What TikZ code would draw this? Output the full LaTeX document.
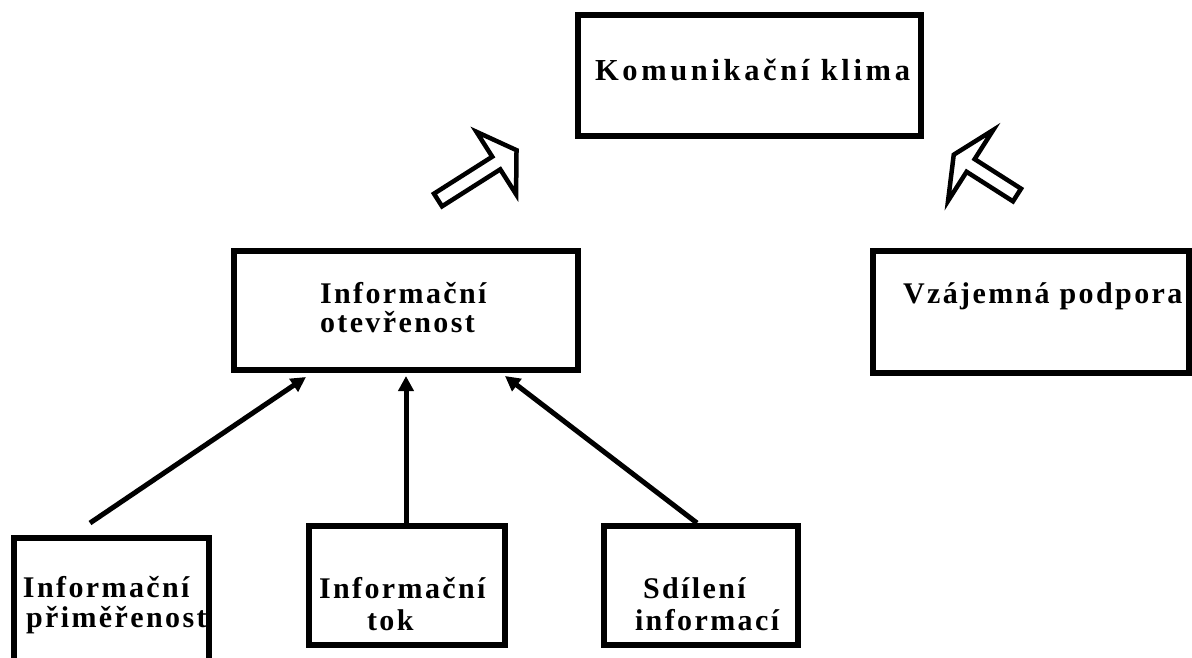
\documentclass[tikz,border=0pt]{standalone}
\usepackage{fontspec}
\newfontfamily\lbl[LetterSpace=8]{Liberation Serif}
\newfontfamily\lblw[LetterSpace=12]{Liberation Serif}
\usetikzlibrary{arrows.meta}
\begin{document}
\begin{tikzpicture}[x=1pt,y=-1pt,
  box/.style={draw=black, line width=6pt, rectangle, inner sep=0pt, outer sep=0pt, fill=white},
  lab/.style={anchor=base west, inner sep=0pt, outer sep=0pt, text=black, font=\lbl\bfseries\fontsize{30}{30}\selectfont},
  labw/.style={anchor=base west, inner sep=0pt, outer sep=0pt, text=black, font=\lblw\bfseries\fontsize{30.5}{30}\selectfont},
  conn/.style={draw=black, line width=5pt, -{Triangle[length=15pt,width=15pt]}},
  blockarrow/.style={draw=black, line width=4.5pt, fill=white, line join=miter}]
\useasboundingbox[fill=white] (0,0) rectangle (1192,657);

% boxes
\node[box, minimum width=343pt, minimum height=121.5pt] (kk) at (749.5,75.25) {};
\node[box, minimum width=343.5pt, minimum height=119pt] (io) at (405.75,310.5) {};
\node[box, minimum width=316pt, minimum height=122pt] (vp) at (1031,312) {};
\node[box, minimum width=195pt, minimum height=127pt] (ipm) at (111.5,601.5) {};
\node[box, minimum width=195.5pt, minimum height=119pt] (it) at (406.75,585.5) {};
\node[box, minimum width=194pt, minimum height=119pt] (si) at (701,585.5) {};

% labels
\node[labw] (kkl) at (595,80) {Komunikační klima};
\node[lab] (iol1) at (320,303) {Informační};
\node[lab] (iol2) at (320,332) {otevřenost};
\node[lab] (vpl) at (903,303) {Vzájemná podpora};
\node[lab] (ipml1) at (23,597) {Informační};
\node[lab] (ipml2) at (26,627) {přiměřenost};
\node[lab] (itl1) at (319,598) {Informační};
\node[lab] (itl2) at (367,630) {tok};
\node[lab] (sil1) at (643,598) {Sdílení};
\node[lab] (sil2) at (635,630) {informací};

% thin connectors
\coordinate (t1) at (90,523);
\coordinate (h1) at (306,377);
\coordinate (t2) at (406,524);
\coordinate (h2) at (406,376);
\coordinate (t3) at (697,523);
\coordinate (h3) at (505,376);
\draw[conn] (t1) -- (h1);
\draw[conn] (t2) -- (h2);
\draw[conn] (t3) -- (h3);

% block arrows
\begin{scope}[shift={(438,200)}, x=1pt, y=1pt, rotate=32.4]
  \draw[blockarrow] (0,-7.5) -- (69,-7.5) -- (69,-37) -- (93,0) -- (69,37) -- (69,7.5) -- (0,7.5) -- cycle;
\end{scope}
\begin{scope}[shift={(1017,195)}, x=1pt, y=1pt, rotate=147.5]
  \draw[blockarrow] (0,-7.5) -- (55,-7.5) -- (55,-42) -- (75,0) -- (55,42) -- (55,7.5) -- (0,7.5) -- cycle;
\end{scope}
\end{tikzpicture}
\end{document}
